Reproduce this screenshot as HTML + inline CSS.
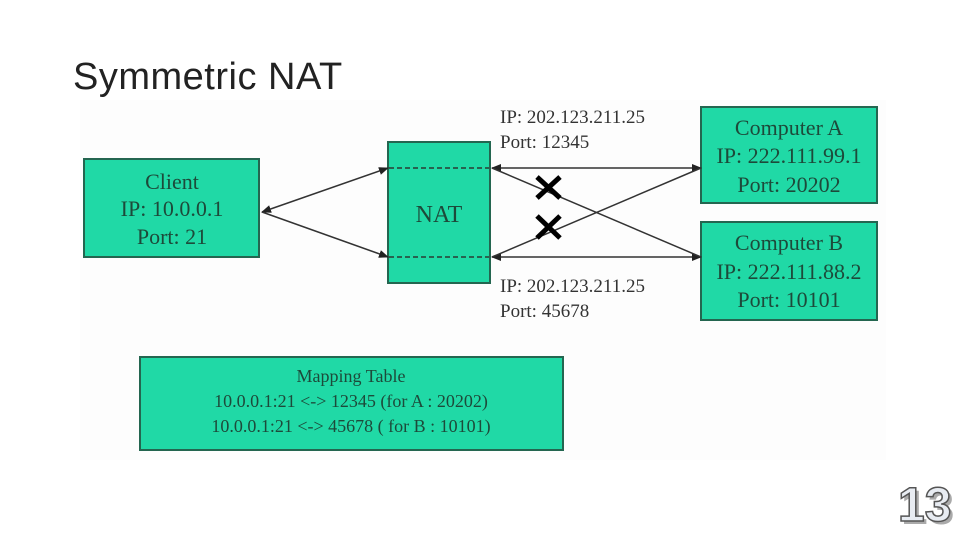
<!DOCTYPE html>
<html><head><meta charset="utf-8"><style>
body{margin:0;width:960px;height:540px;background:#fff;overflow:hidden;position:relative}
.t{position:absolute;left:73px;top:56px;font-family:"Liberation Sans",sans-serif;font-size:38px;letter-spacing:0.5px;color:#222}
.n{position:absolute;left:898px;top:478px;font-family:"Liberation Sans",sans-serif;font-size:48px;font-weight:bold;color:#e8ecf2;-webkit-text-stroke:1.5px #555;text-shadow:3px 3px 0 #aaa}
</style></head><body>
<div class="t">Symmetric NAT</div>
<svg width="960" height="540" style="position:absolute;left:0;top:0" font-family="Liberation Serif,serif">
<defs><marker id="a" markerWidth="10" markerHeight="8" refX="9" refY="4" orient="auto-start-reverse" markerUnits="userSpaceOnUse"><path d="M0,0L10,4L0,8z" fill="#222"/></marker></defs>
<rect x="80" y="100" width="806" height="360" fill="#fdfdfd"/>
<g fill="#20d9a6" stroke="#246650" stroke-width="2">
<rect x="84" y="159" width="175" height="98"/>
<rect x="388" y="142" width="102" height="141"/>
<rect x="701" y="107" width="176" height="96"/>
<rect x="701" y="222" width="176" height="98"/>
<rect x="140" y="357" width="423" height="93"/>
</g>
<g stroke="#2a3a33" stroke-width="1.5" stroke-dasharray="5,3"><line x1="389" y1="168" x2="489" y2="168"/><line x1="389" y1="257" x2="489" y2="257"/></g>
<g stroke="#333" stroke-width="1.5" fill="none">
<line x1="262" y1="212" x2="388" y2="168" marker-start="url(#a)" marker-end="url(#a)"/>
<line x1="262" y1="212" x2="388" y2="257" marker-end="url(#a)"/>
<line x1="492" y1="168" x2="701" y2="168" marker-start="url(#a)" marker-end="url(#a)"/>
<line x1="492" y1="257" x2="701" y2="257" marker-start="url(#a)" marker-end="url(#a)"/>
<line x1="492" y1="168" x2="701" y2="257"/>
<line x1="701" y1="168" x2="492" y2="257"/>
</g>
<g stroke="#000" stroke-width="5"><line x1="537" y1="177" x2="560" y2="198"/><line x1="560" y1="177" x2="537" y2="198"/><line x1="537" y1="216" x2="560" y2="238"/><line x1="560" y1="216" x2="537" y2="238"/></g>
<g fill="#1d4a3a" font-size="22" text-anchor="middle">
<text x="172" y="189">Client</text><text x="172" y="216">IP: 10.0.0.1</text><text x="172" y="244">Port: 21</text>
<text x="439" y="222" font-size="24">NAT</text>
<text x="789" y="135">Computer A</text><text x="789" y="163">IP: 222.111.99.1</text><text x="789" y="192">Port: 20202</text>
<text x="789" y="250">Computer B</text><text x="789" y="279">IP: 222.111.88.2</text><text x="789" y="307">Port: 10101</text>
</g>
<g fill="#1d4a3a" font-size="18" text-anchor="middle">
<text x="351" y="382">Mapping Table</text><text x="351" y="407">10.0.0.1:21 &lt;-&gt; 12345 (for  A : 20202)</text><text x="351" y="432">10.0.0.1:21 &lt;-&gt; 45678 ( for B : 10101)</text>
</g>
<g fill="#333" font-size="19">
<text x="500" y="123">IP: 202.123.211.25</text><text x="500" y="148">Port: 12345</text>
<text x="500" y="292">IP: 202.123.211.25</text><text x="500" y="317">Port: 45678</text>
</g>
</svg>
<div class="n">13</div>
</body></html>
